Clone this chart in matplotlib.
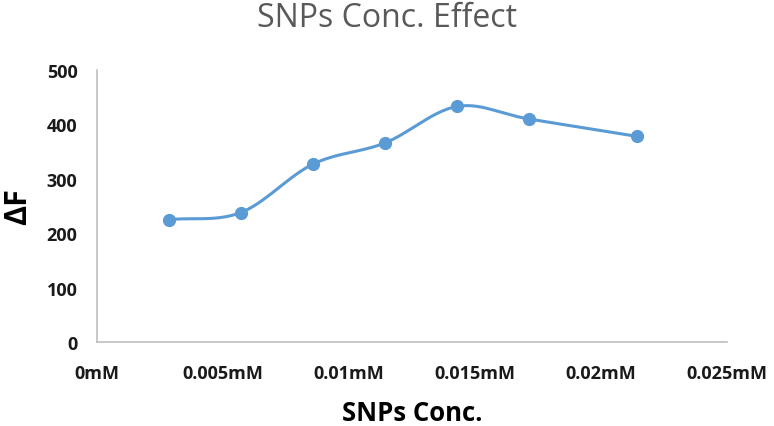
import matplotlib.pyplot as plt
import numpy as np

# SNPs concentration (mM) and fluorescence change
conc = [0.00286, 0.00571, 0.00857, 0.01143, 0.01429, 0.01714, 0.02143]
delta_f = [225, 238, 327, 366, 433, 410, 378]
xticks = [0, 0.005, 0.01, 0.015, 0.02, 0.025]
xtick_labels = ['0mM', '0.005mM', '0.01mM', '0.015mM', '0.02mM', '0.025mM']
yticks = [0, 100, 200, 300, 400, 500]

BLUE = '#5b9bd5'
plt.rcParams['font.family'] = ['Open Sans', 'DejaVu Sans']


def smooth(x, y, n=30):
    # Catmull-Rom style smoothing, similar to a "smoothed line" chart
    x = np.asarray(x, float)
    y = np.asarray(y, float)
    px = np.concatenate([[2 * x[0] - x[1]], x, [2 * x[-1] - x[-2]]])
    py = np.concatenate([[2 * y[0] - y[1]], y, [2 * y[-1] - y[-2]]])
    xs, ys = [], []
    t = np.linspace(0, 1, n)
    for i in range(1, len(px) - 2):
        p0, p1, p2, p3 = (np.array([px[j], py[j]]) for j in range(i - 1, i + 3))
        c1 = p1 + (p2 - p0) / 6
        c2 = p2 - (p3 - p1) / 6
        b = ((1 - t) ** 3)[:, None] * p1 + (3 * (1 - t) ** 2 * t)[:, None] * c1 \
            + (3 * (1 - t) * t ** 2)[:, None] * c2 + (t ** 3)[:, None] * p2
        xs.extend(b[:, 0])
        ys.extend(b[:, 1])
    return xs, ys


fig = plt.figure(figsize=(7.74, 4.27), dpi=100)
ax = fig.add_axes([97 / 774, 1 - 343 / 427, 630 / 774, 272 / 427])

sx, sy = smooth(conc, delta_f)
ax.plot(sx, sy, color=BLUE, lw=2.2, solid_capstyle='round')
ax.plot(conc, delta_f, 'o', color=BLUE, ms=8.5)

ax.set_xlim(0, 0.025)
ax.set_ylim(0, 500)
ax.set_xticks(xticks)
ax.set_xticklabels(xtick_labels)
ax.set_yticks(yticks)

for s in ['top', 'right']:
    ax.spines[s].set_visible(False)
for s in ['left', 'bottom']:
    ax.spines[s].set_color('#bfbfbf')
    ax.spines[s].set_linewidth(1.2)

ax.tick_params(length=0, labelsize=13, colors='#1a1a1a')
ax.tick_params(axis='x', pad=16)
ax.tick_params(axis='y', pad=14)
for lab in ax.get_xticklabels() + ax.get_yticklabels():
    lab.set_fontweight('bold')

ax.set_xlabel('SNPs Conc.', fontsize=18.5, fontweight='bold', labelpad=12)
ax.set_ylabel('ΔF', fontsize=22, fontweight='bold', labelpad=10)
fig.text(0.5, 0.995, 'SNPs Conc. Effect', ha='center', va='top',
         fontsize=23, color='#595959')

fig.savefig('out.png', dpi=100)
